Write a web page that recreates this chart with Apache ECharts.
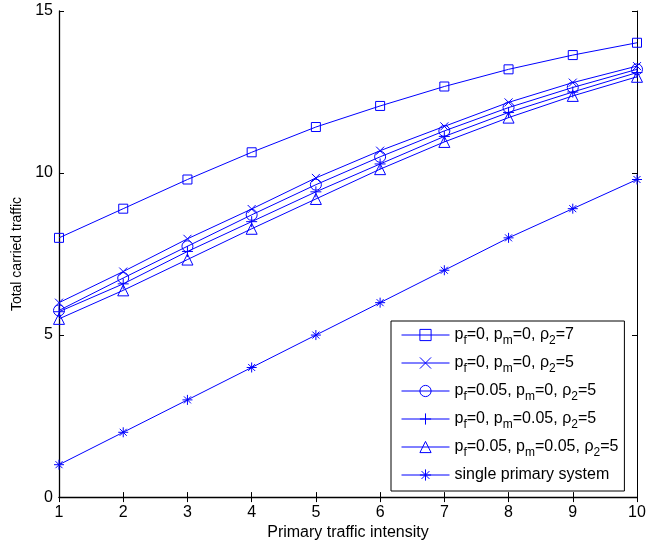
<!DOCTYPE html>
<html>
<head>
<meta charset="UTF-8">
<title>Total carried traffic</title>
<script src="https://cdn.jsdelivr.net/npm/echarts@6/dist/echarts.min.js"></script>
<style>
  html, body { margin: 0; padding: 0; background: #fff; }
  #main { width: 672px; height: 546px; }
</style>
</head>
<body>
<div id="main"></div>
<script>
// primary traffic intensity (x)
const intensity = [1, 2, 3, 4, 5, 6, 7, 8, 9, 10];

// total carried traffic for each case
const pf0pm0rho7 = [8.0, 8.9, 9.8, 10.64, 11.42, 12.07, 12.67, 13.2, 13.64, 14.02];
const pf0pm0rho5 = [6.0, 6.96, 7.97, 8.89, 9.85, 10.69, 11.44, 12.18, 12.79, 13.3];
const pf05pm0rho5 = [5.76, 6.76, 7.74, 8.71, 9.64, 10.5, 11.3, 12.02, 12.64, 13.2];
const pf0pm05rho5 = [5.72, 6.58, 7.58, 8.5, 9.42, 10.28, 11.13, 11.87, 12.5, 13.1];
const pf05pm05rho5 = [5.5, 6.38, 7.33, 8.28, 9.2, 10.12, 10.96, 11.71, 12.38, 12.97];
const singlePrimary = [1, 2, 3, 4, 5, 6, 7, 8, 8.9, 9.8];

const xTicks = [1, 2, 3, 4, 5, 6, 7, 8, 9, 10];
const yTicks = [0, 5, 10, 15];

// legend names, with rich-text versions for the subscripts
const names = [
  'pf=0, pm=0, ρ2=7',
  'pf=0, pm=0, ρ2=5',
  'pf=0.05, pm=0, ρ2=5',
  'pf=0, pm=0.05, ρ2=5',
  'pf=0.05, pm=0.05, ρ2=5',
  'single primary system'
];
const richNames = {
  'pf=0, pm=0, ρ2=7': '{n|p}{s|f}{n|=0, p}{s|m}{n|=0, ρ}{s|2}{n|=7}',
  'pf=0, pm=0, ρ2=5': '{n|p}{s|f}{n|=0, p}{s|m}{n|=0, ρ}{s|2}{n|=5}',
  'pf=0.05, pm=0, ρ2=5': '{n|p}{s|f}{n|=0.05, p}{s|m}{n|=0, ρ}{s|2}{n|=5}',
  'pf=0, pm=0.05, ρ2=5': '{n|p}{s|f}{n|=0, p}{s|m}{n|=0.05, ρ}{s|2}{n|=5}',
  'pf=0.05, pm=0.05, ρ2=5': '{n|p}{s|f}{n|=0.05, p}{s|m}{n|=0.05, ρ}{s|2}{n|=5}',
  'single primary system': '{n|single primary system}'
};

const BLUE = '#0000ff';
const FONT = '"Liberation Sans", Arial, Helvetica, sans-serif';

const markers = [
  { symbol: 'rect', size: 9 },
  { symbol: 'path://M0,0L10,10M10,0L0,10', size: 8 },
  { symbol: 'circle', size: 11 },
  { symbol: 'path://M5,0L5,10M0,5L10,5', size: 11 },
  { symbol: 'triangle', size: 11 },
  { symbol: 'path://M5,0L5,10M0,5L10,5M1.5,1.5L8.5,8.5M8.5,1.5L1.5,8.5', size: 10 }
];
const allData = [pf0pm0rho7, pf0pm0rho5, pf05pm0rho5, pf0pm05rho5, pf05pm05rho5, singlePrimary];

const series = allData.map((vals, i) => ({
  name: names[i],
  type: 'line',
  data: intensity.map((x, j) => [x, vals[j]]),
  symbol: markers[i].symbol,
  symbolSize: markers[i].size,
  showAllSymbol: true,
  lineStyle: { color: BLUE, width: 1 },
  itemStyle: { color: 'transparent', borderColor: BLUE, borderWidth: 1 },
  emphasis: { disabled: true },
  z: 3
}));

const chart = echarts.init(document.getElementById('main'), null, { renderer: 'canvas' });
chart.setOption({
  animation: false,
  backgroundColor: '#fff',
  grid: { left: 59, right: 35, top: 11, bottom: 47 },
  legend: {
    data: names,
    orient: 'vertical',
    left: 391,
    top: 321,
    padding: [6, 6, 4, 10],
    itemWidth: 48,
    itemHeight: 14,
    itemGap: 8,
    backgroundColor: '#fff',
    borderColor: '#000',
    borderWidth: 1,
    borderRadius: 0,
    selectedMode: false,
    lineStyle: { width: 1 },
    itemStyle: { borderWidth: 1 },
    formatter: name => richNames[name],
    textStyle: {
      fontFamily: FONT,
      color: '#000',
      rich: {
        n: { fontFamily: FONT, fontSize: 16, color: '#000', lineHeight: 16, padding: [0, 0, 4, 0], verticalAlign: 'top' },
        s: { fontFamily: FONT, fontSize: 12, color: '#000', lineHeight: 12, padding: [8, 0, 0, 0], verticalAlign: 'top' }
      }
    }
  },
  xAxis: [{
    type: 'value', min: 1, max: 10, interval: 1,
    name: 'Primary traffic intensity', nameLocation: 'middle', nameGap: 27,
    nameTextStyle: { fontFamily: FONT, fontSize: 16, color: '#000' },
    axisLine: { lineStyle: { color: '#000', width: 1.3 } },
    axisTick: { inside: true, length: 5, lineStyle: { color: '#000' } },
    axisLabel: { fontFamily: FONT, fontSize: 16, color: '#000', margin: 7,
      formatter: v => xTicks.includes(v) ? String(v) : '' },
    splitLine: { show: false }
  }, {
    type: 'value', min: 1, max: 10, interval: 1, position: 'top',
    axisLine: { lineStyle: { color: '#000', width: 1 } },
    axisTick: { inside: true, length: 5, lineStyle: { color: '#000' } },
    axisLabel: { show: false },
    splitLine: { show: false }
  }],
  yAxis: [{
    type: 'value', min: 0, max: 15, interval: 5,
    name: 'Total carried traffic', nameLocation: 'middle', nameGap: 35, nameRotate: 90,
    nameTextStyle: { fontFamily: FONT, fontSize: 14, color: '#000' },
    axisLine: { lineStyle: { color: '#000', width: 1.3 } },
    axisTick: { inside: true, length: 5, lineStyle: { color: '#000' } },
    axisLabel: { fontFamily: FONT, fontSize: 16, color: '#000', margin: 6,
      formatter: v => yTicks.includes(v) ? String(v) : '' },
    splitLine: { show: false }
  }, {
    type: 'value', min: 0, max: 15, interval: 5, position: 'right',
    axisLine: { lineStyle: { color: '#000', width: 1 } },
    axisTick: { inside: true, length: 5, lineStyle: { color: '#000' } },
    axisLabel: { show: false },
    splitLine: { show: false }
  }],
  series: series
});
</script>
</body>
</html>
